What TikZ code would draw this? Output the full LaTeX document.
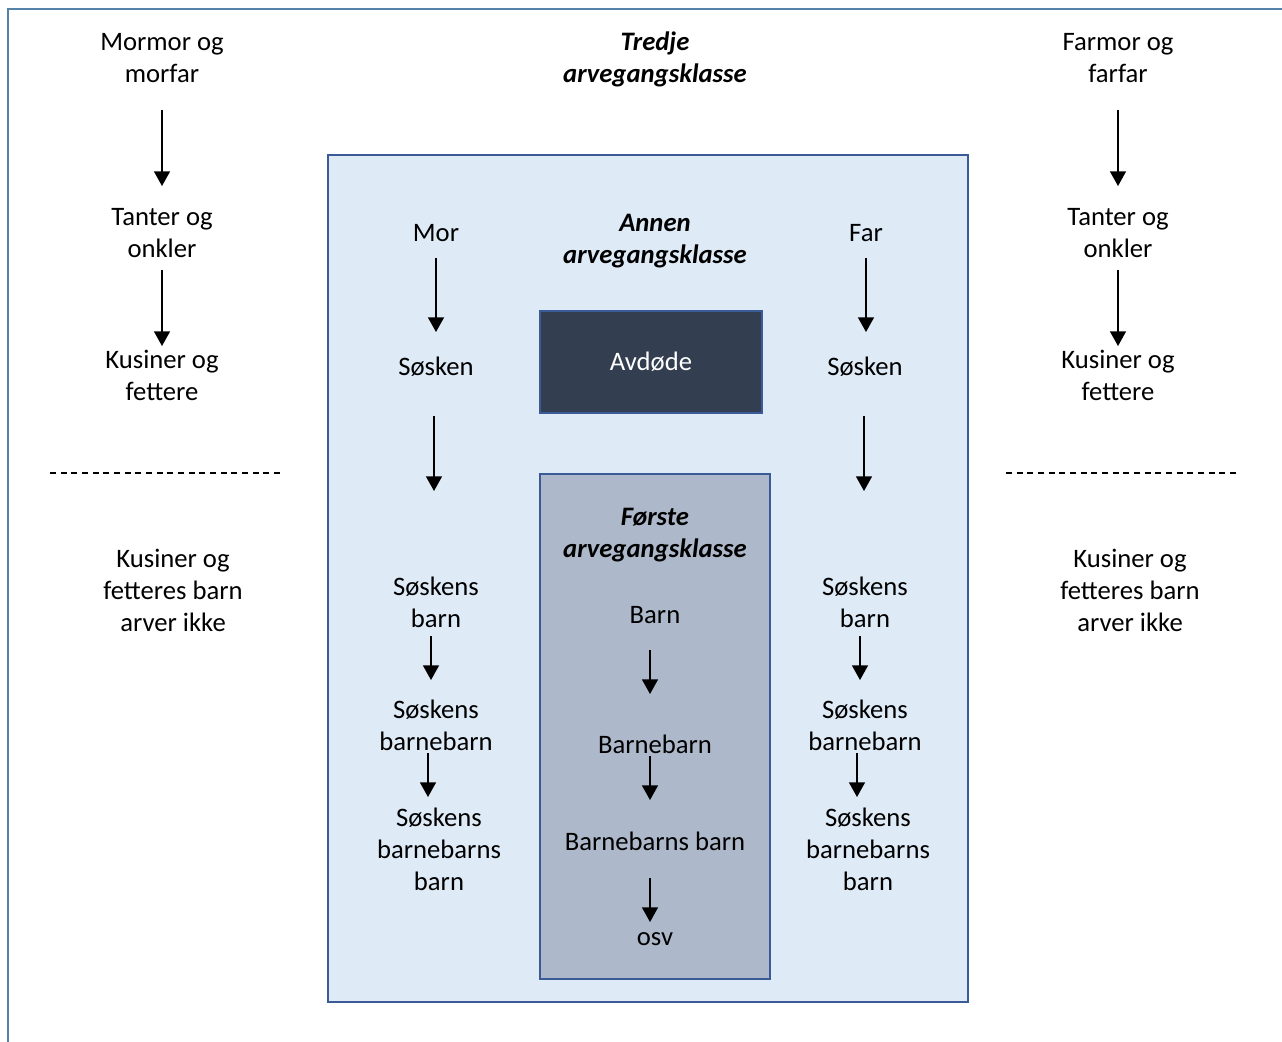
\documentclass[tikz,border=0pt]{standalone}
\usepackage{fontspec}
\setmainfont{Carlito}
\usepackage{xcolor}
\usetikzlibrary{arrows.meta}
\definecolor{framecol}{RGB}{84,130,168}
\definecolor{boxline}{RGB}{58,90,152}
\definecolor{lightfill}{RGB}{222,234,246}
\definecolor{greyfill}{RGB}{173,185,202}
\definecolor{darkfill}{RGB}{51,63,80}
\begin{document}
\begin{tikzpicture}[x=0.75pt,y=-0.75pt,
  txt/.style={align=center,inner sep=0pt,font=\fontsize{20}{24}\selectfont},
  ttl/.style={align=center,inner sep=0pt,font=\fontsize{20}{24}\selectfont\bfseries\itshape},
  arr/.style={-{Triangle[width=12pt,length=11pt]},line width=1.1pt},
  cut/.style={line width=0.8pt,dash pattern=on 4.5pt off 3.5pt}]
\useasboundingbox (0,0) rectangle (1282,1042);
% outer frame
\draw[framecol,line width=2.2pt] (1282,9) -- (8,9) -- (8,1042);
% boxes
\draw[boxline,fill=lightfill,line width=2pt] (328,155) rectangle (968,1002);
\draw[boxline,fill=greyfill,line width=1.9pt] (540,474) rectangle (770,979);
\node[draw=boxline,fill=darkfill,line width=1.9pt,minimum width=166.5pt,minimum height=76.5pt,
      text=white,font=\fontsize{20}{24}\selectfont] (avd) at (651,362) {Avdøde};
% titles
\node[ttl] (tredje) at (655,59) {Tredje\\arvegangsklasse};
\node[ttl] (annen) at (655,241) {Annen\\arvegangsklasse};
\node[ttl] (forste) at (655,535) {Første\\arvegangsklasse};
% left side
\node[txt] (mm) at (162,58) {Mormor og\\morfar};
\node[txt] (tl) at (162,233) {Tanter og\\onkler};
\node[txt] (kl) at (162,375) {Kusiner og\\fettere};
\node[txt] (nbl) at (173,590) {Kusiner og\\fetteres barn\\arver ikke};
\draw[arr] ([shift={(0,52)}]mm.center) -- ([shift={(0,-47)}]tl.center);
\draw[arr] ([shift={(0,37)}]tl.center) -- ([shift={(0,-29)}]kl.center);
\draw[cut] (50,473) -- (282,473);
% right side
\node[txt] (fm) at (1118,58) {Farmor og\\farfar};
\node[txt] (tr) at (1118,233) {Tanter og\\onkler};
\node[txt] (kr) at (1118,375) {Kusiner og\\fettere};
\node[txt] (nbr) at (1130,590) {Kusiner og\\fetteres barn\\arver ikke};
\draw[arr] ([shift={(0,52)}]fm.center) -- ([shift={(0,-47)}]tr.center);
\draw[arr] ([shift={(0,37)}]tr.center) -- ([shift={(0,-29)}]kr.center);
\draw[cut] (1006,473) -- (1238,473);
% mother's line
\node[txt] (mor) at (436,233) {Mor};
\node[txt] (sl) at (436,367) {Søsken};
\node[txt] (sbl) at (436,602) {Søskens\\barn};
\node[txt] (sbbl) at (436,725) {Søskens\\barnebarn};
\node[txt] (sbbbl) at (439,849) {Søskens\\barnebarns\\barn};
\draw[arr] ([shift={(0,25)}]mor.center) -- ([shift={(0,-35)}]sl.center);
\draw[arr] ([shift={(-2,49)}]sl.center) -- ([shift={(-2,-111)}]sbl.center);
\draw[arr] ([shift={(-5,34)}]sbl.center) -- ([shift={(-5,-45)}]sbbl.center);
\draw[arr] ([shift={(-8,28)}]sbbl.center) -- ([shift={(-11,-52)}]sbbbl.center);
% father's line
\node[txt] (far) at (866,233) {Far};
\node[txt] (sr) at (865,367) {Søsken};
\node[txt] (sbr) at (865,602) {Søskens\\barn};
\node[txt] (sbbr) at (865,725) {Søskens\\barnebarn};
\node[txt] (sbbbr) at (868,849) {Søskens\\barnebarns\\barn};
\draw[arr] ([shift={(0,25)}]far.center) -- ([shift={(1,-35)}]sr.center);
\draw[arr] ([shift={(-1,49)}]sr.center) -- ([shift={(-1,-111)}]sbr.center);
\draw[arr] ([shift={(-5,34)}]sbr.center) -- ([shift={(-5,-45)}]sbbr.center);
\draw[arr] ([shift={(-8,28)}]sbbr.center) -- ([shift={(-11,-52)}]sbbbr.center);
% descendants
\node[txt] (barn) at (655,615) {Barn};
\node[txt] (bb) at (655,744) {Barnebarn};
\node[txt] (bbb) at (655,841) {Barnebarns barn};
\node[txt] (osv) at (655,939) {osv};
\draw[arr] ([shift={(-5,35)}]barn.center) -- ([shift={(-5,-50)}]bb.center);
\draw[arr] ([shift={(-5,12)}]bb.center) -- ([shift={(-5,-41)}]bbb.center);
\draw[arr] ([shift={(-5,37)}]bbb.center) -- ([shift={(-5,-17)}]osv.center);
\end{tikzpicture}
\end{document}
